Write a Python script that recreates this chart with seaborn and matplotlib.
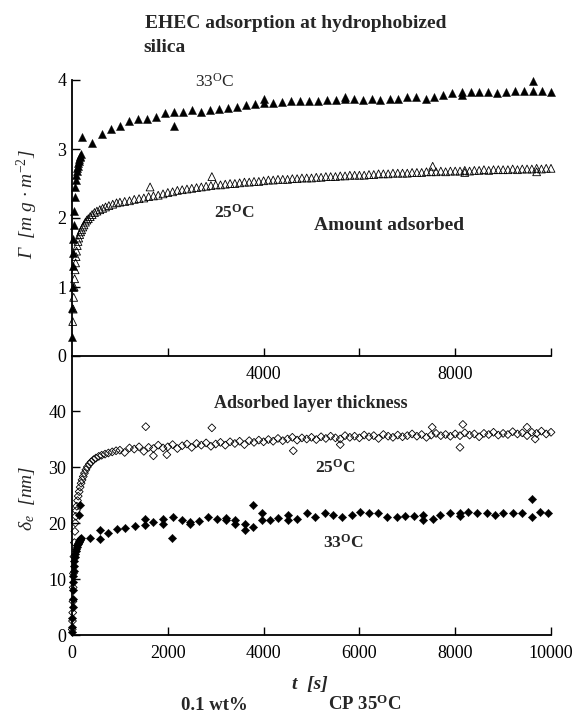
import numpy as np
import seaborn as sns
import matplotlib.pyplot as plt

sns.set_style('ticks')
plt.rcParams['font.family'] = ['Liberation Serif', 'DejaVu Serif']
plt.rcParams['mathtext.fontset'] = 'custom'
plt.rcParams['mathtext.rm'] = 'Liberation Serif'
plt.rcParams['mathtext.it'] = 'Liberation Serif:italic'
plt.rcParams['mathtext.bf'] = 'Liberation Serif:bold'

# ---- amount adsorbed, 25 C (open triangles) ----
t25_top_early = [15, 25, 35, 45, 55, 65, 75, 85, 95, 110, 125, 140, 160, 180, 200,
                 225, 250, 280, 310, 340, 380, 420, 470, 520, 580, 640, 700, 770, 850, 930]
g25_top_early = [0.50, 0.68, 0.85, 1.00, 1.12, 1.25, 1.35, 1.44, 1.52, 1.60, 1.66, 1.71, 1.76, 1.80, 1.83,
                 1.87, 1.90, 1.94, 1.97, 1.99, 2.02, 2.05, 2.08, 2.10, 2.12, 2.14, 2.16, 2.18, 2.20, 2.22]
t25_top_late = np.arange(1000, 10001, 100)
g25_top_late = [2.23, 2.24, 2.25, 2.27, 2.28, 2.29, 2.31, 2.32, 2.33, 2.35,
                2.37, 2.38, 2.40, 2.41, 2.42, 2.43, 2.44, 2.45, 2.46, 2.47,
                2.48, 2.48, 2.49, 2.50, 2.50, 2.51, 2.52, 2.52, 2.53, 2.53,
                2.54, 2.55, 2.55, 2.56, 2.56, 2.56, 2.57, 2.57, 2.58, 2.58,
                2.58, 2.59, 2.59, 2.60, 2.60, 2.60, 2.61, 2.61, 2.62, 2.62,
                2.62, 2.62, 2.63, 2.63, 2.64, 2.64, 2.64, 2.65, 2.65, 2.65,
                2.65, 2.66, 2.66, 2.66, 2.67, 2.67, 2.67, 2.68, 2.67, 2.68,
                2.68, 2.68, 2.69, 2.68, 2.69, 2.69, 2.70, 2.69, 2.70, 2.70,
                2.70, 2.70, 2.71, 2.70, 2.71, 2.71, 2.71, 2.72, 2.71, 2.72,
                2.72]
t25_top_odd = [1630, 2920, 7530, 8200, 9700]
g25_top_odd = [2.45, 2.60, 2.75, 2.66, 2.67]

# ---- amount adsorbed, 33 C (filled triangles) ----
t33_top_early = [5, 10, 15, 20, 25, 30, 40, 50, 60, 70, 80, 90, 100, 110, 120,
                 130, 140, 150, 160, 175, 190]
g33_top_early = [0.27, 0.70, 1.00, 1.30, 1.50, 1.70, 1.90, 2.10, 2.30, 2.45, 2.55, 2.62, 2.68, 2.72, 2.76,
                 2.80, 2.83, 2.86, 2.88, 2.90, 2.93]
t33_top = [200, 420, 620, 810, 1000, 1190, 1370, 1560, 1750, 1940,
           2130, 2320, 2500, 2690, 2880, 3070, 3250, 3440, 3630, 3820,
           4000, 4190, 4380, 4570, 4760, 4940, 5130, 5320, 5510, 5700,
           5880, 6070, 6260, 6430, 6630, 6810, 7000, 7180, 7380, 7560,
           7750, 7940, 8140, 8320, 8500, 8690, 8880, 9060, 9250, 9440,
           9620, 9810, 9990]
g33_top = [3.17, 3.08, 3.22, 3.29, 3.34, 3.41, 3.43, 3.44, 3.46, 3.52,
           3.53, 3.53, 3.56, 3.54, 3.56, 3.58, 3.59, 3.61, 3.64, 3.65,
           3.67, 3.66, 3.68, 3.69, 3.69, 3.70, 3.69, 3.71, 3.71, 3.72,
           3.72, 3.71, 3.73, 3.71, 3.73, 3.73, 3.75, 3.76, 3.73, 3.76,
           3.78, 3.81, 3.83, 3.82, 3.83, 3.83, 3.81, 3.82, 3.84, 3.84,
           3.84, 3.84, 3.82]
t33_top_odd = [2130, 4000, 5700, 8140, 9620]
g33_top_odd = [3.34, 3.72, 3.76, 3.78, 3.99]

# ---- layer thickness, 25 C (open diamonds) ----
t25_bot_early = [5, 10, 15, 20, 25, 30, 40, 50, 60, 70, 80, 90, 100, 115, 130, 150, 170,
                 190, 210, 235, 260, 290, 320, 360, 400, 450, 500, 560, 620, 690, 760, 840, 920]
d25_bot_early = [1.0, 2.5, 4.0, 6.0, 8.5, 11.0, 14.0, 16.5, 18.5, 20.0, 21.2, 22.2, 23.0, 24.0, 24.8, 25.6, 26.4,
                 27.1, 27.7, 28.3, 28.9, 29.5, 30.0, 30.5, 30.9, 31.3, 31.6, 31.9, 32.1, 32.3, 32.5, 32.7, 32.9]
t25_bot_late = np.arange(1000, 10001, 100)
d25_bot_late = [33.0, 32.6, 33.4, 33.2, 33.6, 32.8, 33.5, 33.3, 33.9, 33.4,
                33.6, 34.0, 33.3, 33.8, 34.1, 33.5, 34.2, 33.9, 34.3, 33.7,
                34.1, 34.4, 33.9, 34.5, 34.2, 34.6, 34.0, 34.7, 34.4, 34.8,
                34.5, 34.9, 34.6, 35.1, 34.7, 35.0, 35.3, 34.8, 35.2, 35.0,
                35.3, 34.9, 35.4, 35.1, 35.5, 35.2, 35.0, 35.6, 35.3, 35.5,
                35.2, 35.7, 35.4, 35.6, 35.1, 35.8, 35.5, 35.3, 35.7, 35.4,
                35.6, 35.9, 35.5, 35.8, 35.3, 35.7, 36.0, 35.6, 35.8, 35.5,
                35.9, 35.6, 36.1, 35.7, 35.9, 35.4, 36.0, 35.8, 36.2, 35.7,
                36.0, 35.8, 36.3, 35.9, 36.1, 35.6, 36.2, 36.0, 36.4, 35.9,
                36.2]
t25_bot_odd = [1540, 1700, 1980, 2920, 4620, 5600, 7520, 8100, 8160, 9500, 9670]
d25_bot_odd = [37.2, 32.0, 32.2, 37.0, 32.9, 34.0, 37.1, 33.5, 37.6, 37.1, 35.0]

# ---- layer thickness, 33 C (filled diamonds) ----
t33_bot_early = [2, 5, 8, 12, 16, 20, 25, 30, 35, 40, 50, 60, 70, 80, 90, 100,
                 110, 120, 130, 140, 150, 160, 175, 190, 150, 170]
d33_bot_early = [0.5, 1.5, 3.0, 5.0, 6.5, 8.0, 9.5, 10.5, 11.5, 12.3, 13.2, 14.0, 14.5, 15.0, 15.4, 15.7,
                 16.0, 16.2, 16.4, 16.6, 16.8, 17.0, 17.1, 17.3, 21.4, 23.2]
t33_bot = [376, 585, 758, 933, 1106, 1315, 1524, 1698, 1907, 2115,
           2290, 2463, 2658, 2832, 3020, 3215, 3403, 3612, 3786, 3960,
           4134, 4308, 4516, 4690, 4899, 5073, 5282, 5456, 5630, 5839,
           6013, 6207, 6395, 6583, 6778, 6952, 7140, 7334, 7530, 7683,
           7891, 8100, 8275, 8448, 8657, 8831, 9005, 9214, 9388, 9596,
           9770, 9944]
d33_bot = [17.3, 17.1, 18.2, 18.9, 19.1, 19.5, 20.7, 20.1, 20.7, 21.0,
           20.6, 20.2, 20.4, 21.0, 20.8, 20.9, 20.5, 19.9, 19.3, 21.7,
           20.6, 20.9, 21.4, 20.8, 21.7, 21.1, 21.7, 21.5, 21.1, 21.5,
           22.0, 21.7, 21.7, 21.1, 21.1, 21.2, 21.2, 21.4, 20.8, 21.4,
           21.8, 21.7, 22.0, 21.7, 21.8, 21.5, 21.8, 21.7, 21.8, 21.1,
           22.0, 21.8]
t33_bot_odd = [585, 1524, 1907, 2081, 2463, 3215, 3403, 3612, 3786, 3960, 4516, 7334, 8100, 9596]
d33_bot_odd = [18.75, 19.6, 19.8, 17.3, 19.8, 20.5, 19.9, 18.75, 23.2, 20.5, 20.5, 20.5, 21.2, 24.2]

W, H = 572, 717
fig = plt.figure(figsize=(W / 100, H / 100), dpi=100)


def box(x0, y0, x1, y1):
    return [x0 / W, 1 - y1 / H, (x1 - x0) / W, (y1 - y0) / H]


ax1 = fig.add_axes(box(72, 80, 551, 356))
ax2 = fig.add_axes(box(72, 356, 551, 635))

open_kw = dict(facecolor='none', edgecolor='black', linewidth=0.6, clip_on=False)
fill_kw = dict(color='black', edgecolor='black', linewidth=0.3, clip_on=False)

# top panel
sns.scatterplot(x=t25_top_early + list(t25_top_late) + t25_top_odd,
                y=g25_top_early + g25_top_late + g25_top_odd,
                ax=ax1, marker='^', s=32, **open_kw)
sns.scatterplot(x=t33_top_early + t33_top + t33_top_odd,
                y=g33_top_early + g33_top + g33_top_odd,
                ax=ax1, marker='^', s=34, **fill_kw)

# bottom panel
sns.scatterplot(x=t25_bot_early + list(t25_bot_late) + t25_bot_odd,
                y=d25_bot_early + d25_bot_late + d25_bot_odd,
                ax=ax2, marker='D', s=16, **open_kw)
sns.scatterplot(x=t33_bot_early + t33_bot + t33_bot_odd,
                y=d33_bot_early + d33_bot + d33_bot_odd,
                ax=ax2, marker='D', s=18, **fill_kw)

for ax in (ax1, ax2):
    ax.set_facecolor('none')
    ax.set_xlim(0, 10000)
    ax.set_xlabel('')
    ax.set_ylabel('')
    for side in ('top', 'right'):
        ax.spines[side].set_visible(False)
    for side in ('left', 'bottom'):
        ax.spines[side].set_linewidth(1.3)
        ax.spines[side].set_color('black')
    ax.tick_params(direction='in', length=6, width=1, labelsize=13, pad=4, colors='black')
    ax.tick_params(axis='x', pad=7)

ax1.set_ylim(0, 4)
ax1.set_yticks([0, 1, 2, 3, 4])
ax1.set_xticks([2000, 4000, 6000, 8000, 10000])
ax1.set_xticklabels(['', '4000', '', '8000', ''])

ax2.set_ylim(0, (635 - 356) / 5.6)
ax2.set_yticks([0, 10, 20, 30, 40])
ax2.set_xticks([0, 2000, 4000, 6000, 8000, 10000])


def label(x, y, s, **kw):
    fig.text(x / W, 1 - y / H, s, **kw)


label(145, 23, 'EHEC adsorption at hydrophobized', fontsize=14, fontweight='bold', va='center')
label(143, 48, 'silica', fontsize=14, fontweight='bold', va='center')
label(215, 82, r'33$^{\mathrm{O}}$C', fontsize=12.5, ha='center', va='center')
label(234, 213, r'25$^{\mathbf{O}}$C', fontsize=12.5, fontweight='bold', ha='center', va='center')
label(389, 225, 'Amount adsorbed', fontsize=14, fontweight='bold', ha='center', va='center')
label(311, 403, 'Adsorbed layer thickness', fontsize=13, fontweight='bold', ha='center', va='center')
label(335, 468, r'25$^{\mathbf{O}}$C', fontsize=12.5, fontweight='bold', ha='center', va='center')
label(343, 543, r'33$^{\mathbf{O}}$C', fontsize=12.5, fontweight='bold', ha='center', va='center')
label(310, 685, 't  [s]', fontsize=14, fontweight='bold', fontstyle='italic', ha='center', va='center')
label(214, 705, '0.1 wt%', fontsize=13.5, fontweight='bold', ha='center', va='center')
label(365, 704, r'CP 35$^{\mathbf{O}}$C', fontsize=13.5, fontweight='bold', ha='center', va='center')
label(27, 204, r'Γ  [m g · m$^{-2}$]', fontsize=14, fontstyle='italic', rotation=90, ha='center', va='center')
label(27, 498, r'δ$_e$  [nm]', fontsize=14, fontstyle='italic', rotation=90, ha='center', va='center')

fig.savefig('out.png', dpi=100)
